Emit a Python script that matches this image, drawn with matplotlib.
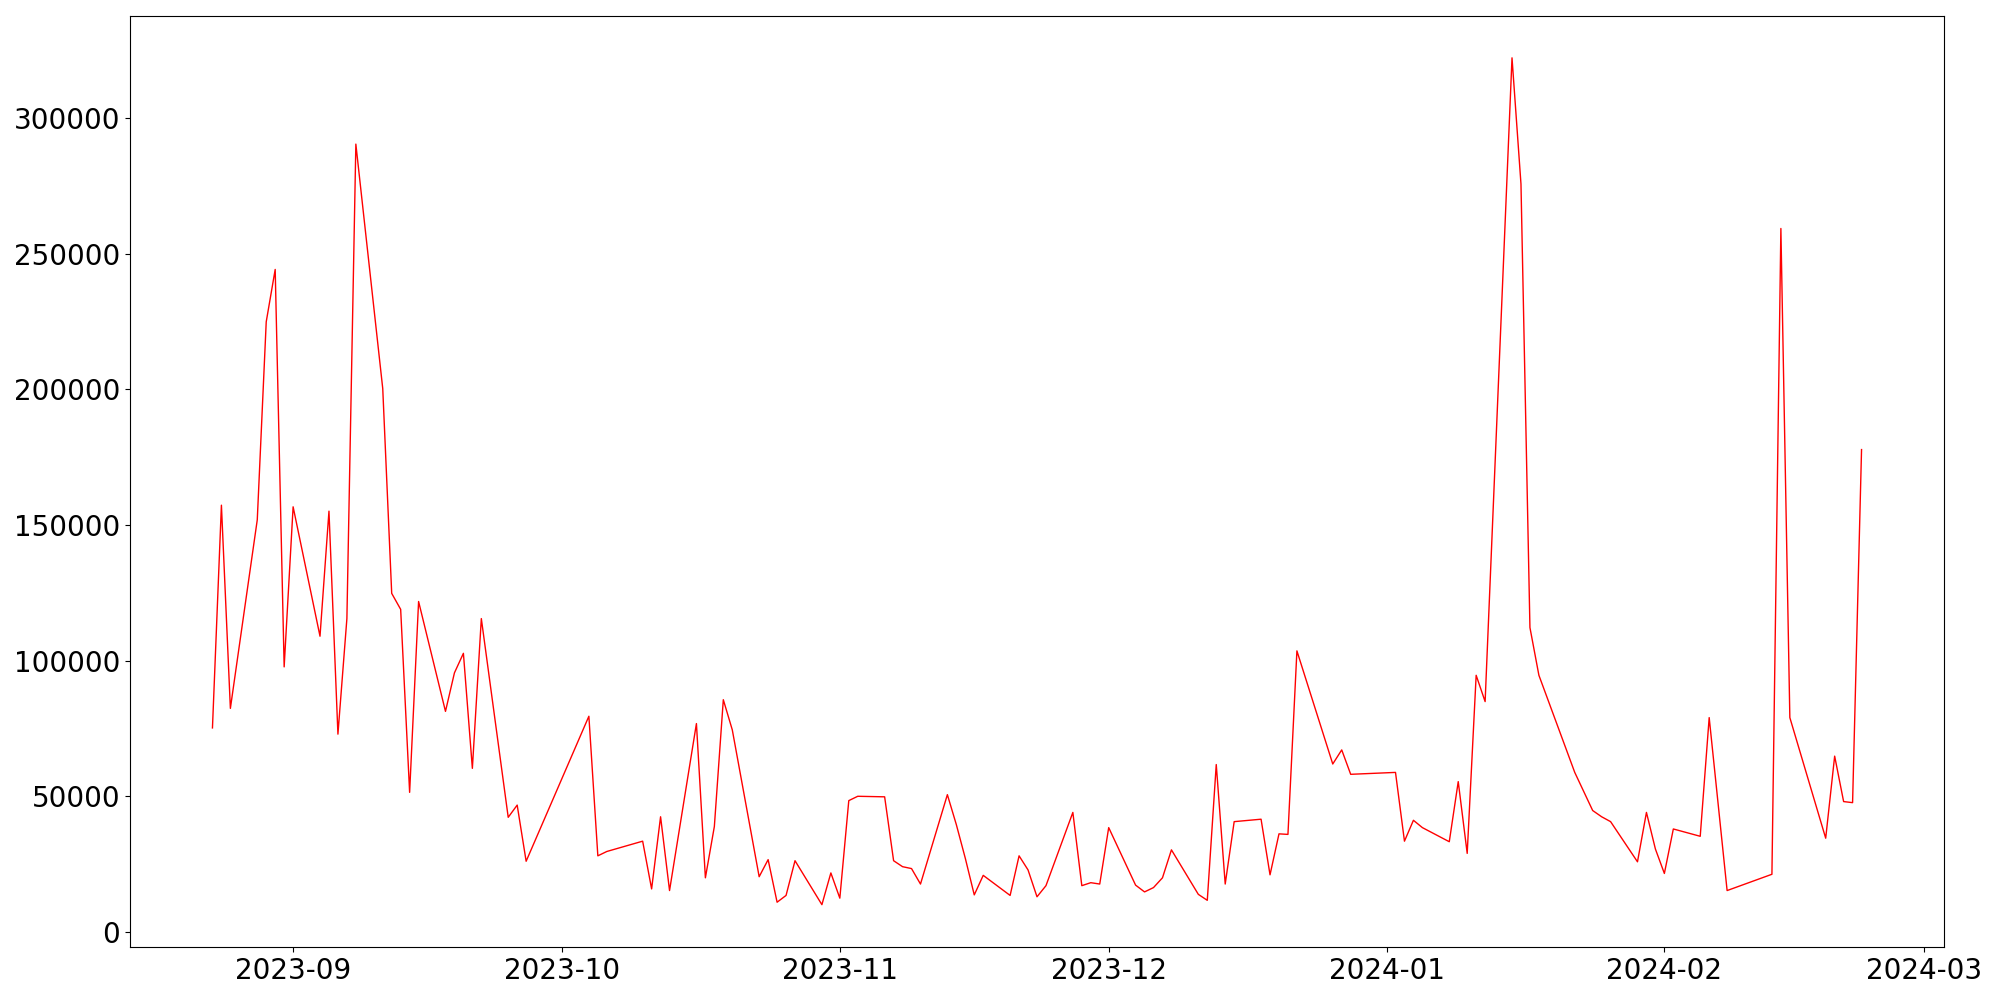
import matplotlib
matplotlib.use("Agg")
import matplotlib.pyplot as plt
import pandas as pd

dates = [
    "2023-08-23", "2023-08-24", "2023-08-25", "2023-08-28", "2023-08-29", "2023-08-30", "2023-08-31",
    "2023-09-01", "2023-09-04", "2023-09-05", "2023-09-06", "2023-09-07", "2023-09-08",
    "2023-09-11", "2023-09-12", "2023-09-13", "2023-09-14", "2023-09-15",
    "2023-09-18", "2023-09-19", "2023-09-20", "2023-09-21", "2023-09-22",
    "2023-09-25", "2023-09-26", "2023-09-27",
    "2023-10-04", "2023-10-05", "2023-10-06", "2023-10-10", "2023-10-11", "2023-10-12", "2023-10-13",
    "2023-10-16", "2023-10-17", "2023-10-18", "2023-10-19", "2023-10-20",
    "2023-10-23", "2023-10-24", "2023-10-25", "2023-10-26", "2023-10-27",
    "2023-10-30", "2023-10-31", "2023-11-01", "2023-11-02", "2023-11-03",
    "2023-11-06", "2023-11-07", "2023-11-08", "2023-11-09", "2023-11-10",
    "2023-11-13", "2023-11-14", "2023-11-15", "2023-11-16", "2023-11-17",
    "2023-11-20", "2023-11-21", "2023-11-22", "2023-11-23", "2023-11-24",
    "2023-11-27", "2023-11-28", "2023-11-29", "2023-11-30", "2023-12-01",
    "2023-12-04", "2023-12-05", "2023-12-06", "2023-12-07", "2023-12-08",
    "2023-12-11", "2023-12-12", "2023-12-13", "2023-12-14", "2023-12-15",
    "2023-12-18", "2023-12-19", "2023-12-20", "2023-12-21", "2023-12-22",
    "2023-12-26", "2023-12-27", "2023-12-28",
    "2024-01-02", "2024-01-03", "2024-01-04", "2024-01-05",
    "2024-01-08", "2024-01-09", "2024-01-10", "2024-01-11", "2024-01-12",
    "2024-01-15", "2024-01-16", "2024-01-17", "2024-01-18",
    "2024-01-22", "2024-01-24", "2024-01-25", "2024-01-26",
    "2024-01-29", "2024-01-30", "2024-01-31", "2024-02-01", "2024-02-02",
    "2024-02-05", "2024-02-06", "2024-02-08",
    "2024-02-13", "2024-02-14", "2024-02-15",
    "2024-02-19", "2024-02-20", "2024-02-21", "2024-02-22", "2024-02-23",
]

values = [
    75200, 157300, 82400, 151900, 224900, 244200, 97700,
    156700, 109000, 155100, 72900, 115500, 290400,
    200300, 124800, 118900, 51450, 121800,
    81300, 95500, 102700, 60300, 115500,
    42250, 46750, 26050,
    79500, 28050, 29650, 33450, 15850, 42450, 15250,
    76800, 19950, 38850, 85600, 74500,
    20350, 26650, 10950, 13450, 26250,
    10050, 21750, 12450, 48400, 50000,
    49800, 26250, 24050, 23350, 17650,
    50600, 39550, 27150, 13650, 20850,
    13450, 28050, 22850, 12950, 17050,
    44050, 17050, 18150, 17650, 38450,
    17250, 14750, 16350, 19950, 30250,
    13850, 11650, 61700, 17650, 40650,
    41550, 21050, 36150, 35950, 103600,
    61900, 67100, 58100,
    58800, 33450, 41150, 38450,
    33250, 55400, 28950, 94600, 84900,
    322200, 275700, 112200, 94600,
    58800, 44750, 42450, 40650,
    25850, 44050, 30550, 21550, 37950,
    35250, 79000, 15250,
    21250, 259300, 79000,
    34550, 64800, 48050, 47650, 177800,
]

x = pd.to_datetime(dates)

fig = plt.figure(figsize=(20, 10), dpi=100)
ax = fig.add_subplot(111)
ax.plot(x, values, color="red", linewidth=1.0)
ax.tick_params(axis="both", labelsize=20)
fig.subplots_adjust(left=0.065, right=0.972, bottom=0.053, top=0.9845)
fig.savefig("out.png", dpi=100)
